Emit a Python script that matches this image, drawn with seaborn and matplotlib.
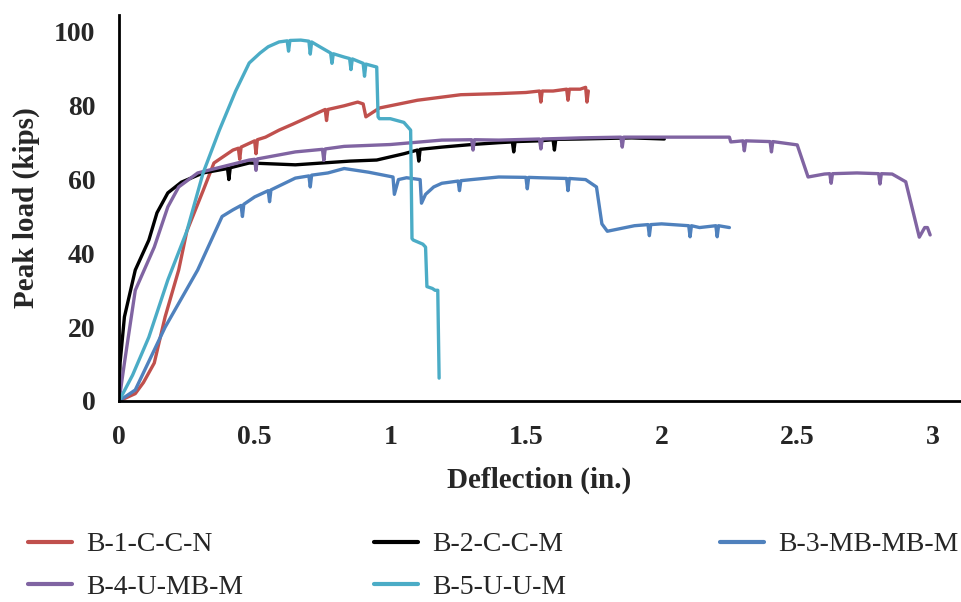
import pandas as pd
import matplotlib
matplotlib.use("Agg")
import matplotlib.pyplot as plt
import seaborn as sns

# data (small downward spikes included where visible)
b1_x = [0, 0.03, 0.06, 0.09, 0.13, 0.17, 0.22, 0.25, 0.31, 0.35, 0.42, 0.44, 0.445, 0.45,
        0.50, 0.505, 0.51, 0.54, 0.59, 0.64, 0.70, 0.76, 0.765, 0.77, 0.83, 0.88, 0.90, 0.91,
        0.96, 1.10, 1.26, 1.40, 1.50, 1.55, 1.555, 1.56, 1.60, 1.65, 1.655, 1.66, 1.70, 1.72,
        1.725, 1.73]
b1_y = [0, 1, 2, 5, 10.3, 22.8, 35.5, 46, 57, 64.5, 68, 68.5, 65.5, 68.8,
        70.5, 67, 70.8, 71.5, 73.4, 75, 77, 79, 76, 79, 80, 81, 80.5, 77,
        79.4, 81.5, 83, 83.3, 83.6, 84, 81, 84, 84, 84.5, 81.5, 84.5, 84.5, 85,
        81, 84]

b2_x = [0, 0.004, 0.02, 0.06, 0.11, 0.14, 0.18, 0.23, 0.31, 0.40, 0.405, 0.41, 0.48, 0.55,
        0.65, 0.75, 0.85, 0.95, 1.05, 1.10, 1.105, 1.11, 1.19, 1.30, 1.40, 1.45, 1.455, 1.46,
        1.55, 1.60, 1.605, 1.61, 1.70, 1.89, 2.01]
b2_y = [0, 10.3, 22.8, 35.5, 43.6, 51, 56.4, 59.3, 61.8, 63, 60, 63.2, 64.5, 64.3,
        64, 64.5, 65, 65.3, 67, 68, 65, 68.2, 68.8, 69.5, 70, 70.2, 67.5, 70.3,
        70.5, 70.8, 68, 70.9, 71, 71.3, 71]

b3_x = [0, 0.06, 0.17, 0.29, 0.38, 0.42, 0.45, 0.455, 0.46, 0.50, 0.55, 0.555, 0.56, 0.65,
        0.70, 0.705, 0.71, 0.77, 0.83, 0.92, 1.01, 1.015, 1.03, 1.06, 1.11, 1.115, 1.13,
        1.16, 1.19, 1.25, 1.255, 1.26, 1.30, 1.40, 1.50, 1.505, 1.51, 1.55, 1.65, 1.655,
        1.66, 1.72, 1.76, 1.78, 1.80, 1.90, 1.95, 1.955, 1.96, 2.00, 2.10, 2.105, 2.11, 2.14,
        2.20, 2.205, 2.21, 2.25]
b3_y = [0, 3, 20, 35.5, 50, 51.8, 53, 50, 53.3, 55.3, 57, 54, 57.2, 60.4,
        61, 58, 61.2, 61.8, 63, 62, 60.7, 56, 60, 60.5, 60, 53.6, 56,
        58, 59, 59.6, 57, 59.7, 60, 60.7, 60.6, 57.5, 60.6, 60.5, 60.3, 57,
        60.3, 60, 58, 48, 46, 47.5, 47.8, 44.8, 47.8, 48, 47.5, 44.5, 47.5, 47,
        47.5, 44.5, 47.5, 47]

b4_x = [0, 0.02, 0.06, 0.13, 0.18, 0.22, 0.29, 0.48, 0.50, 0.505, 0.51, 0.65, 0.75, 0.755,
        0.76, 0.83, 1.00, 1.19, 1.30, 1.305, 1.31, 1.40, 1.55, 1.555, 1.56, 1.70, 1.85, 1.855,
        1.86, 1.90, 2.10, 2.25, 2.255, 2.30, 2.305, 2.31, 2.40, 2.405, 2.41, 2.50, 2.54, 2.60,
        2.62, 2.625, 2.63, 2.72, 2.80, 2.805, 2.81, 2.85, 2.90, 2.95, 2.97, 2.98, 2.99]
b4_y = [0, 10.3, 30, 41.7, 52.6, 58, 61.8, 65.3, 65.5, 62.5, 65.6, 67.5, 68.2, 65.2,
        68.3, 69, 69.5, 70.7, 70.8, 68, 70.8, 70.7, 71, 68.3, 71, 71.3, 71.5, 68.8,
        71.5, 71.5, 71.5, 71.5, 70.2, 70.5, 67.8, 70.5, 70.3, 67.5, 70.3, 69.4, 60.7, 61.5,
        61.6, 59, 61.6, 61.8, 61.6, 58.8, 61.6, 61.5, 59.4, 44.4, 47, 47, 45]

b5_x = [0, 0.05, 0.11, 0.18, 0.25, 0.31, 0.37, 0.43, 0.48, 0.52, 0.55, 0.59, 0.62, 0.625,
        0.63, 0.67, 0.70, 0.705, 0.71, 0.74, 0.78, 0.785, 0.79, 0.83, 0.85, 0.855, 0.86, 0.90,
        0.905, 0.91, 0.95, 0.955, 0.96, 1.00, 1.05, 1.075, 1.08, 1.085, 1.12, 1.13, 1.135,
        1.155, 1.165, 1.175, 1.18]
b5_y = [0, 7, 17.3, 32.8, 46, 61.8, 73.4, 84, 91.6, 94.3, 96, 97.3, 97.6, 94.8,
        97.7, 97.8, 97.5, 94, 97.3, 96, 94.3, 91.5, 94.1, 93.2, 92.8, 89.8, 92.7, 91.5,
        88, 91.3, 90.5, 77, 76.5, 76.5, 75.5, 73.4, 44, 43.6, 42.5, 41.7, 31,
        30.5, 30, 30, 6.2]

names = ["B-1-C-C-N", "B-2-C-C-M", "B-3-MB-MB-M", "B-4-U-MB-M", "B-5-U-U-M"]
colors = ["#C0504D", "#000000", "#4F81BD", "#8064A2", "#4BACC6"]
series = [(b1_x, b1_y), (b2_x, b2_y), (b3_x, b3_y), (b4_x, b4_y), (b5_x, b5_y)]

frames = []
for n, (xs, ys) in zip(names, series):
    frames.append(pd.DataFrame({"x": xs, "y": ys, "beam": n}))
df = pd.concat(frames, ignore_index=True)

sns.set_style("white")
plt.rcParams["font.family"] = ["Liberation Serif", "DejaVu Serif"]

fig = plt.figure(figsize=(9.61, 6.02), dpi=100)
ax = fig.add_axes([119 / 961, 1 - 401 / 602, (960 - 119) / 961, (401 - 15) / 602])

sns.lineplot(data=df, x="x", y="y", hue="beam", palette=dict(zip(names, colors)),
             sort=False, estimator=None, units="beam", linewidth=2.4, ax=ax, legend=False)

ax.set_xlim(0, 3.1)
ax.set_ylim(0, 104.6)
ax.set_xticks([0, 0.5, 1, 1.5, 2, 2.5, 3])
ax.set_xticklabels(["0", "0.5", "1", "1.5", "2", "2.5", "3"])
ax.set_yticks([0, 20, 40, 60, 80, 100])
ax.tick_params(length=0, labelsize=20, pad=17)
for t in ax.get_xticklabels() + ax.get_yticklabels():
    t.set_fontweight("bold")
ax.set_xlabel("Deflection (in.)", fontsize=21, fontweight="bold", labelpad=12)
ax.set_ylabel("Peak load (kips)", fontsize=21, fontweight="bold", labelpad=10)
sns.despine(ax=ax)
for s in ["left", "bottom"]:
    ax.spines[s].set_color("black")
    ax.spines[s].set_linewidth(2)

lines = ax.get_lines()
cols = [[0, 3], [1, 4], [2]]
xpos = [28, 374, 720]
for idx, xp in zip(cols, xpos):
    leg = fig.legend([lines[i] for i in idx], [names[i] for i in idx], loc="upper left",
                     bbox_to_anchor=(xp / 961, 1 - 532 / 602), frameon=False, fontsize=20,
                     handlelength=1.6, handletextpad=0.5, borderpad=0, borderaxespad=0,
                     labelspacing=0.6)
    for h in leg.get_lines():
        h.set_linewidth(3)

fig.savefig("out.png", dpi=100)
